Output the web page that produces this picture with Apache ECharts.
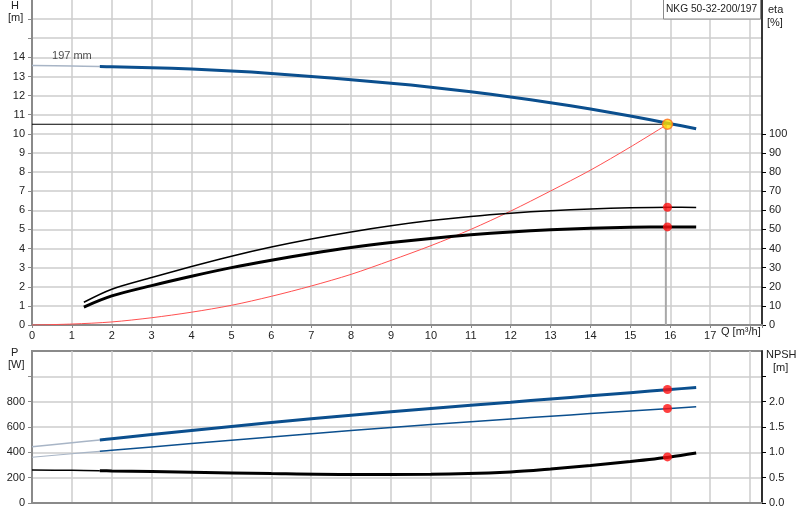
<!DOCTYPE html>
<html lang="en">
<head>
<meta charset="UTF-8">
<title>NKG 50-32-200/197</title>
<script src="https://cdn.jsdelivr.net/npm/echarts@6.0.0/dist/echarts.min.js"></script>
<style>
  html, body { margin: 0; padding: 0; background: #fff; }
  #chart { width: 800px; height: 520px; }
</style>
</head>
<body>
<div id="chart"></div>
<script>
// flow values (m3/h) and curves
var qHead = [0, 1, 1.7, 2, 3, 4, 5, 6, 7, 8, 9, 10, 11, 12, 13, 14, 15, 16, 16.65];
var head  = [13.58, 13.55, 13.52, 13.51, 13.46, 13.39, 13.29, 13.16, 13.0, 12.83, 12.65, 12.44, 12.2, 11.93, 11.63, 11.3, 10.93, 10.53, 10.27];

var qSys = [0, 1, 2, 3, 4, 5, 6, 7, 8, 9, 10, 11, 12, 13, 14, 15, 15.93];
var sysHead = [0, 0.05, 0.16, 0.38, 0.67, 1.03, 1.5, 2.04, 2.65, 3.38, 4.15, 5.0, 5.96, 7.01, 8.1, 9.31, 10.5];

var qEta = [1.3, 2, 3, 4, 5, 6, 7, 8, 9, 10, 11, 12, 13, 14, 15, 16, 16.65];
var etaUpper = [11.9, 18.7, 24.8, 30.6, 36.0, 40.8, 45, 48.7, 51.9, 54.6, 56.8, 58.5, 59.8, 60.7, 61.3, 61.6, 61.5];
var etaLower = [9.4, 15.2, 20.6, 25.5, 30, 33.9, 37.4, 40.5, 43.1, 45.3, 47.2, 48.7, 49.8, 50.6, 51.1, 51.3, 51.2];

var qLow = [0, 1, 1.7, 2, 4, 6, 8, 10, 12, 13, 14, 15, 16, 16.65];
var powerP1 = [445, 476, 498, 508, 572, 635, 693, 746, 796, 821, 846, 871, 896, 912];
var powerP2 = [361, 389, 408, 416, 469, 522, 572, 620, 664, 685, 706, 726, 746, 759];
var npsh = [0.653, 0.645, 0.638, 0.633, 0.607, 0.58, 0.562, 0.567, 0.613, 0.67, 0.74, 0.82, 0.91, 0.988];

// duty point
var dutyQ = 15.93;
var dutyH = 10.5;
var dutyEtaUpper = 61.6;
var dutyEtaLower = 51.3;
var dutyP1 = 896;
var dutyP2 = 746;
var dutyNpsh = 0.91;

var extrapEnd = 1.7;   // curves are drawn light below this flow

function pairs(xs, ys, from, to) {
    var out = [];
    for (var i = 0; i < xs.length; i++) {
        if (xs[i] >= from && xs[i] <= to) out.push([xs[i], ys[i]]);
    }
    return out;
}

var blue = '#0b4f8e';
var light = '#a8b5c6';
var gridLine = { show: true, lineStyle: { color: '#cdcdcd', width: 1.5 } };
var font = { fontFamily: 'Liberation Sans, Arial, sans-serif', fontSize: 11, color: '#222' };
var smoothness = 0.3;

function yAxisDef(grid, pos, max, interval, labelMax, tickMax, digits, lineColor, split) {
    var ticks = [];
    for (var v = 0; v <= tickMax + 1e-9; v += interval) ticks.push(+v.toFixed(3));
    return {
        type: 'value', gridIndex: grid, position: pos, min: 0, max: max, interval: interval,
        axisLine: { show: true, onZero: false, lineStyle: { color: lineColor, width: pos === 'left' ? 2 : 1.5 } },
        axisTick: { show: true, length: 4, customValues: ticks, lineStyle: { color: lineColor, width: 1 } },
        axisLabel: Object.assign({}, font, {
            margin: 7,
            formatter: function (val) { return val <= labelMax + 1e-9 ? val.toFixed(digits) : ''; }
        }),
        splitLine: split ? gridLine : { show: false }
    };
}

function txt(x, y, s, size) {
    return {
        type: 'text', x: x, y: y, z: 100,
        style: { text: s, fontFamily: font.fontFamily, fontSize: size || 11, fill: '#222' }
    };
}

var chart = echarts.init(document.getElementById('chart'));

var option = {
    animation: false,
    backgroundColor: '#fff',
    grid: [
        { left: 32, right: 38, top: 0, height: 325 },
        { left: 32, right: 38, top: 351, height: 152, show: true, borderColor: '#8a8a8a', borderWidth: 2 }
    ],
    xAxis: [
        {
            type: 'value', gridIndex: 0, min: 0, max: 18.3, interval: 1,
            axisLine: { lineStyle: { color: '#8a8a8a', width: 2 } },
            axisTick: { show: true, length: 3, lineStyle: { color: '#8a8a8a' } },
            axisLabel: Object.assign({}, font, {
                margin: 5,
                formatter: function (val) { return val <= 17 ? String(val) : ''; }
            }),
            splitLine: gridLine
        },
        {
            type: 'value', gridIndex: 1, min: 0, max: 18.3, interval: 1,
            axisLine: { lineStyle: { color: '#8a8a8a', width: 2 } },
            axisTick: { show: false },
            axisLabel: { show: false },
            splitLine: gridLine
        }
    ],
    yAxis: [
        yAxisDef(0, 'left', 17, 1, 14, 16, 0, '#8a8a8a', true),
        yAxisDef(0, 'right', 170, 10, 100, 100, 0, '#000', false),
        yAxisDef(1, 'left', 1200, 200, 800, 1000, 0, '#8a8a8a', true),
        yAxisDef(1, 'right', 3, 0.5, 2, 2.5, 1, '#000', false)
    ],
    graphic: [
        txt(11, 0, 'H'),
        txt(8, 12, '[m]'),
        txt(768, 4, 'eta'),
        txt(767, 17, '[%]'),
        txt(721, 326, 'Q [m\u00b3/h]'),
        txt(11, 347, 'P'),
        txt(8, 359, '[W]'),
        txt(766, 349, 'NPSH'),
        txt(773, 362, '[m]'),
        {
            type: 'rect', z: 99, shape: { x: 663.5, y: -1, width: 97, height: 20 },
            style: { fill: '#fff', stroke: '#8a8a8a', lineWidth: 1 }
        },
        txt(666, 4, 'NKG 50-32-200/197', 10.2)
    ],
    series: [
        // duty lines
        {
            type: 'line', xAxisIndex: 0, yAxisIndex: 0, symbol: 'none', silent: true,
            lineStyle: { color: '#000', width: 1 },
            data: [[0, dutyH], [dutyQ, dutyH]]
        },
        {
            type: 'line', xAxisIndex: 0, yAxisIndex: 0, symbol: 'none', silent: true,
            lineStyle: { color: '#a8a8a8', width: 2 },
            data: [[dutyQ - 0.04, 0], [dutyQ - 0.04, dutyH]]
        },
        // system curve
        {
            type: 'line', xAxisIndex: 0, yAxisIndex: 0, symbol: 'none', smooth: smoothness,
            lineStyle: { color: '#ff5050', width: 1 },
            data: pairs(qSys, sysHead, 0, 99)
        },
        // head curve
        {
            type: 'line', xAxisIndex: 0, yAxisIndex: 0, symbol: 'none', smooth: smoothness,
            lineStyle: { color: light, width: 1.5 },
            data: pairs(qHead, head, 0, extrapEnd)
        },
        {
            type: 'line', xAxisIndex: 0, yAxisIndex: 0, symbol: 'none', smooth: smoothness,
            lineStyle: { color: blue, width: 3 },
            data: pairs(qHead, head, extrapEnd, 99)
        },
        {
            type: 'scatter', xAxisIndex: 0, yAxisIndex: 0, symbolSize: 0, silent: true,
            label: { show: true, position: 'top', distance: 4, formatter: '197 mm', fontFamily: font.fontFamily, fontSize: 11, color: '#222' },
            data: [[qHead[1], head[1]]]
        },
        // efficiency curves
        {
            type: 'line', xAxisIndex: 0, yAxisIndex: 1, symbol: 'none', smooth: smoothness,
            lineStyle: { color: '#000', width: 1.5 },
            data: pairs(qEta, etaUpper, 0, 99)
        },
        {
            type: 'line', xAxisIndex: 0, yAxisIndex: 1, symbol: 'none', smooth: smoothness,
            lineStyle: { color: '#000', width: 3 },
            data: pairs(qEta, etaLower, 0, 99)
        },
        // duty markers, top
        {
            type: 'scatter', xAxisIndex: 0, yAxisIndex: 1, symbolSize: 9, z: 10,
            itemStyle: { color: '#ff1010' },
            data: [[dutyQ, dutyEtaUpper], [dutyQ, dutyEtaLower]]
        },
        {
            type: 'scatter', xAxisIndex: 0, yAxisIndex: 0, symbolSize: 10, z: 11,
            itemStyle: { color: '#ffe000', borderColor: '#ff7020', borderWidth: 1.5 },
            data: [[dutyQ, dutyH]]
        },
        // power curves
        {
            type: 'line', xAxisIndex: 1, yAxisIndex: 2, symbol: 'none', smooth: smoothness,
            lineStyle: { color: light, width: 1.5 },
            data: pairs(qLow, powerP1, 0, extrapEnd)
        },
        {
            type: 'line', xAxisIndex: 1, yAxisIndex: 2, symbol: 'none', smooth: smoothness,
            lineStyle: { color: blue, width: 3 },
            data: pairs(qLow, powerP1, extrapEnd, 99).map(function (p, i, arr) {
                if (i < arr.length - 1) return p;
                return { value: p, label: { show: true, position: 'top', offset: [-2, -1], formatter: 'P1', fontFamily: font.fontFamily, fontSize: 11, color: blue } };
            })
        },
        {
            type: 'line', xAxisIndex: 1, yAxisIndex: 2, symbol: 'none', smooth: smoothness,
            lineStyle: { color: light, width: 1.2 },
            data: pairs(qLow, powerP2, 0, extrapEnd)
        },
        {
            type: 'line', xAxisIndex: 1, yAxisIndex: 2, symbol: 'none', smooth: smoothness,
            lineStyle: { color: blue, width: 1.5 },
            data: pairs(qLow, powerP2, extrapEnd, 99).map(function (p, i, arr) {
                if (i < arr.length - 1) return p;
                return { value: p, label: { show: true, position: 'bottom', offset: [-2, 0], formatter: 'P2', fontFamily: font.fontFamily, fontSize: 11, color: blue } };
            })
        },
        // NPSH
        {
            type: 'line', xAxisIndex: 1, yAxisIndex: 3, symbol: 'none', smooth: smoothness,
            lineStyle: { color: '#000', width: 1.5 },
            data: pairs(qLow, npsh, 0, extrapEnd)
        },
        {
            type: 'line', xAxisIndex: 1, yAxisIndex: 3, symbol: 'none', smooth: smoothness,
            lineStyle: { color: '#000', width: 3 },
            data: pairs(qLow, npsh, extrapEnd, 99)
        },
        // duty markers, bottom
        {
            type: 'scatter', xAxisIndex: 1, yAxisIndex: 2, symbolSize: 9, z: 10,
            itemStyle: { color: '#ff1010' },
            data: [[dutyQ, dutyP1], [dutyQ, dutyP2]]
        },
        {
            type: 'scatter', xAxisIndex: 1, yAxisIndex: 3, symbolSize: 9, z: 10,
            itemStyle: { color: '#ff1010' },
            data: [[dutyQ, dutyNpsh]]
        }
    ]
};

chart.setOption(option);
</script>
</body>
</html>
